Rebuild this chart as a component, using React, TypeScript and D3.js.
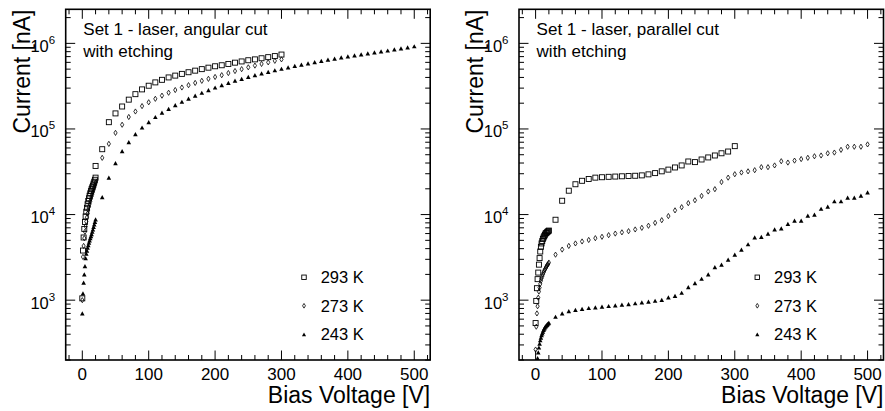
import React from "react";
import * as d3 from "d3";

// ---------- data ----------
const V_DENSE = [0, 1, 2, 3, 4, 5, 6, 7, 8, 9, 10, 11, 12, 13, 14, 15, 16, 17, 18, 19, 20];
const V_300 = [30, 40, 50, 60, 70, 80, 90, 100, 110, 120, 130, 140, 150, 160, 170, 180, 190, 200, 210, 220, 230, 240, 250, 260, 270, 280, 290, 300];
const V_500 = [30, 40, 50, 60, 70, 80, 90, 100, 110, 120, 130, 140, 150, 160, 170, 180, 190, 200, 210, 220, 230, 240, 250, 260, 270, 280, 290, 300, 310, 320, 330, 340, 350, 360, 370, 380, 390, 400, 410, 420, 430, 440, 450, 460, 470, 480, 490, 500];
const V_L293 = [20, 30, 40, 50, 60, 70, 80, 90, 100, 110, 120, 130, 140, 150, 160, 170, 180, 190, 200, 210, 220, 230, 240, 250, 260, 270, 280, 290, 300];

// Left panel: angular cut
const L293_DENSE = [1050, 3800, 5400, 6800, 8200, 9500, 10800, 12000, 13200, 14400, 15500, 16600, 17700, 18800, 19800, 20800, 21800, 23000, 24200, 25500, 27000];
const L293_MAIN = [37000, 58000, 120000, 152000, 183000, 220000, 255000, 290000, 320000, 350000, 375000, 400000, 420000, 440000, 460000, 480000, 500000, 520000, 540000, 555000, 575000, 595000, 615000, 635000, 650000, 670000, 690000, 710000, 740000];
const L273_DENSE = [1000, 3200, 4300, 5300, 6300, 7300, 8300, 9300, 10300, 11300, 12300, 13300, 14300, 15300, 16300, 17300, 18300, 19500, 20700, 22000, 23500];
const L273_MAIN = [46000, 67000, 90000, 112000, 138000, 160000, 185000, 205000, 225000, 245000, 265000, 285000, 305000, 325000, 345000, 365000, 385000, 405000, 425000, 450000, 475000, 500000, 525000, 550000, 575000, 600000, 625000, 650000];
const L243_DENSE = [700, 1200, 1600, 2000, 2500, 3100, 3500, 3800, 4100, 4400, 4700, 5000, 5300, 5600, 5900, 6300, 6700, 7200, 7700, 8200, 8800];
const L243_MAIN = [16000, 27000, 40000, 55000, 70000, 87000, 104000, 120000, 138000, 155000, 172000, 190000, 208000, 226000, 245000, 265000, 285000, 305000, 325000, 345000, 367000, 385000, 405000, 425000, 445000, 465000, 485000, 505000, 525000, 545000, 565000, 585000, 605000, 625000, 645000, 665000, 685000, 705000, 725000, 745000, 765000, 785000, 805000, 825000, 850000, 875000, 900000, 925000];

// Right panel: parallel cut
const R293_DENSE = [540, 980, 1380, 1760, 2100, 2600, 3100, 3700, 4200, 4600, 4900, 5200, 5400, 5600, 5800, 6000, 6100, 6200, 6300, 6400, 6500];
const R293_MAIN = [8700, 14500, 19000, 22600, 24800, 26000, 27000, 27300, 27600, 27800, 28000, 28200, 28400, 28700, 29500, 30500, 32000, 33500, 35500, 37500, 41700, 41000, 44000, 46500, 49000, 52000, 54500, 63000];
const R273_DENSE = [265, 490, 700, 850, 1070, 1260, 1400, 1550, 1680, 1800, 1900, 2000, 2100, 2200, 2280, 2360, 2440, 2520, 2600, 2650, 2750];
const R273_MAIN = [3400, 3900, 4300, 4600, 4850, 5050, 5300, 5500, 5750, 6000, 6200, 6400, 6700, 7000, 7400, 8000, 8600, 9600, 11200, 12200, 13600, 14700, 16500, 18600, 19800, 24000, 27000, 29600, 31000, 32000, 33000, 35800, 35800, 37500, 42000, 40500, 42700, 44500, 46000, 48000, 49000, 52000, 53000, 57000, 62000, 62000, 62000, 66000];
const R243_DENSE = [120, 150, 180, 210, 245, 280, 310, 340, 365, 390, 410, 430, 450, 465, 480, 495, 505, 515, 525, 535, 545];
const R243_MAIN = [640, 700, 745, 770, 790, 810, 825, 840, 855, 870, 885, 900, 920, 940, 960, 985, 1010, 1080, 1120, 1220, 1420, 1580, 1780, 2000, 2430, 2600, 2970, 3400, 3900, 4500, 5400, 5500, 6000, 6700, 6900, 7800, 8500, 8500, 9700, 10000, 11700, 12400, 14300, 14300, 15800, 15800, 16600, 18200];

const X_TICKS = [0, 100, 200, 300, 400, 500];
const Y_TICK_EXP = [3, 4, 5, 6];
const LEGEND_LABELS = ["293 K", "273 K", "243 K"];
const LEFT_TITLE = ["Set 1 - laser, angular cut", "with etching"];
const RIGHT_TITLE = ["Set 1 - laser, parallel cut", "with etching"];
const X_TITLE = "Bias Voltage [V]";
const Y_TITLE = "Current [nA]";

type Sym = "square" | "diamond" | "triangle";
type Series = { sym: Sym; v: number[]; i: number[] }[];

const LEFT_SERIES: Series = [
  { sym: "square", v: V_DENSE, i: L293_DENSE },
  { sym: "square", v: V_L293, i: L293_MAIN },
  { sym: "diamond", v: V_DENSE, i: L273_DENSE },
  { sym: "diamond", v: V_300, i: L273_MAIN },
  { sym: "triangle", v: V_DENSE, i: L243_DENSE },
  { sym: "triangle", v: V_500, i: L243_MAIN },
];
const RIGHT_SERIES: Series = [
  { sym: "square", v: V_DENSE, i: R293_DENSE },
  { sym: "square", v: V_300, i: R293_MAIN },
  { sym: "diamond", v: V_DENSE, i: R273_DENSE },
  { sym: "diamond", v: V_500, i: R273_MAIN },
  { sym: "triangle", v: V_DENSE, i: R243_DENSE },
  { sym: "triangle", v: V_500, i: R243_MAIN },
];

const FONT = "'Liberation Sans', Arial, Helvetica, sans-serif";

function Marker({ sym, x, y, s = 1 }: { sym: Sym; x: number; y: number; s?: number }) {
  if (sym === "square") {
    const h = 2.5 * s;
    return <rect x={x - h} y={y - h} width={2 * h} height={2 * h} fill="none" stroke="#000" strokeWidth={0.9} />;
  }
  if (sym === "diamond") {
    const w = 1.6 * s, h = 2.6 * s;
    return <path d={`M${x},${y - h}L${x + w},${y}L${x},${y + h}L${x - w},${y}Z`} fill="none" stroke="#000" strokeWidth={0.8} />;
  }
  const w = 2.3 * s, h = 2.1 * s;
  return <path d={`M${x},${y - h}L${x + w},${y + h}L${x - w},${y + h}Z`} fill="#000" />;
}

function Panel({ x0, series, title, id }: { x0: number; series: Series; title: string[]; id: string }) {
  const W = 364.5;
  const x1 = x0 + W;
  const yTop = 9.3, yBot = 360;
  const xs = d3.scaleLinear().domain([-25, 524]).range([x0, x1]);
  const ys = d3.scaleLog().domain([200, 2.5e6]).range([yBot, yTop]);

  const xMinor = d3.range(-20, 521, 20).filter((v) => v % 100 !== 0);
  const yMinor: number[] = [];
  for (let e = 2; e <= 6; e++) for (let m = 2; m <= 9; m++) {
    const v = m * Math.pow(10, e);
    if (v >= 200 && v <= 2.5e6) yMinor.push(v);
  }
  const MJ = 9.5, MN = 5;

  return (
    <g fontFamily={FONT}>
      <defs>
        <clipPath id={id}>
          <rect x={x0} y={yTop} width={W} height={yBot - yTop} />
        </clipPath>
      </defs>
      <rect x={x0} y={yTop} width={W} height={yBot - yTop} fill="#fff" />
      {/* ticks */}
      <g stroke="#000" strokeWidth={1}>
        {X_TICKS.map((t) => (
          <g key={"xm" + t}>
            <line x1={xs(t)} x2={xs(t)} y1={yBot} y2={yBot - MJ} />
            <line x1={xs(t)} x2={xs(t)} y1={yTop} y2={yTop + MJ} />
          </g>
        ))}
        {xMinor.map((t) => (
          <g key={"xn" + t}>
            <line x1={xs(t)} x2={xs(t)} y1={yBot} y2={yBot - MN} />
            <line x1={xs(t)} x2={xs(t)} y1={yTop} y2={yTop + MN} />
          </g>
        ))}
        {Y_TICK_EXP.map((e) => (
          <g key={"ym" + e}>
            <line x1={x0} x2={x0 + MJ} y1={ys(Math.pow(10, e))} y2={ys(Math.pow(10, e))} />
            <line x1={x1} x2={x1 - MJ} y1={ys(Math.pow(10, e))} y2={ys(Math.pow(10, e))} />
          </g>
        ))}
        {yMinor.map((t) => (
          <g key={"yn" + t}>
            <line x1={x0} x2={x0 + MN} y1={ys(t)} y2={ys(t)} />
            <line x1={x1} x2={x1 - MN} y1={ys(t)} y2={ys(t)} />
          </g>
        ))}
      </g>
      {/* data */}
      <g clipPath={`url(#${id})`}>
        {series.map((s, si) =>
          s.v.map((v, k) => <Marker key={si + "-" + k} sym={s.sym} x={xs(v)} y={ys(s.i[k])} />)
        )}
      </g>
      <rect x={x0} y={yTop} width={W} height={yBot - yTop} fill="none" stroke="#000" strokeWidth={1.6} />
      {/* tick labels */}
      {X_TICKS.map((t) => (
        <text key={"xl" + t} x={xs(t)} y={380} fontSize={17} textAnchor="middle" fill="#000">{t}</text>
      ))}
      {Y_TICK_EXP.map((e) => (
        <text key={"yl" + e} x={x0 - 10.5} y={ys(Math.pow(10, e)) + 8.5} fontSize={16.5} textAnchor="end" fill="#000">
          10<tspan fontSize={11.5} dy={-8}>{e}</tspan>
        </text>
      ))}
      {/* axis titles */}
      <text x={x1} y={403} fontSize={23} textAnchor="end" fill="#000">{X_TITLE}</text>
      <text transform={`translate(${x0 - 36.2},${yTop + 0.2}) rotate(-90)`} fontSize={23} textAnchor="end" fill="#000">{Y_TITLE}</text>
      {/* annotation */}
      <text x={x0 + 17.6} y={35} fontSize={17} fill="#000">{title[0]}</text>
      <text x={x0 + 17.6} y={57} fontSize={17} fill="#000">{title[1]}</text>
      {/* legend */}
      {LEGEND_LABELS.map((lab, k) => {
        const cy = 277.3 + k * 28.5;
        const sym: Sym = k === 0 ? "square" : k === 1 ? "diamond" : "triangle";
        return (
          <g key={lab}>
            <Marker sym={sym} x={x0 + 238.3} y={cy} s={0.9} />
            <text x={x0 + 255} y={cy + 6} fontSize={16.5} fill="#000">{lab}</text>
          </g>
        );
      })}
    </g>
  );
}

export default function App() {
  return (
    <div style={{ position: "absolute", left: 0, top: 0 }}>
      <svg width={885} height={411} viewBox="0 0 885 411" style={{ display: "block", background: "#fff" }}>
        <rect width={885} height={411} fill="#fff" />
        <Panel x0={65.7} series={LEFT_SERIES} title={LEFT_TITLE} id="clipL" />
        <Panel x0={519} series={RIGHT_SERIES} title={RIGHT_TITLE} id="clipR" />
      </svg>
    </div>
  );
}
